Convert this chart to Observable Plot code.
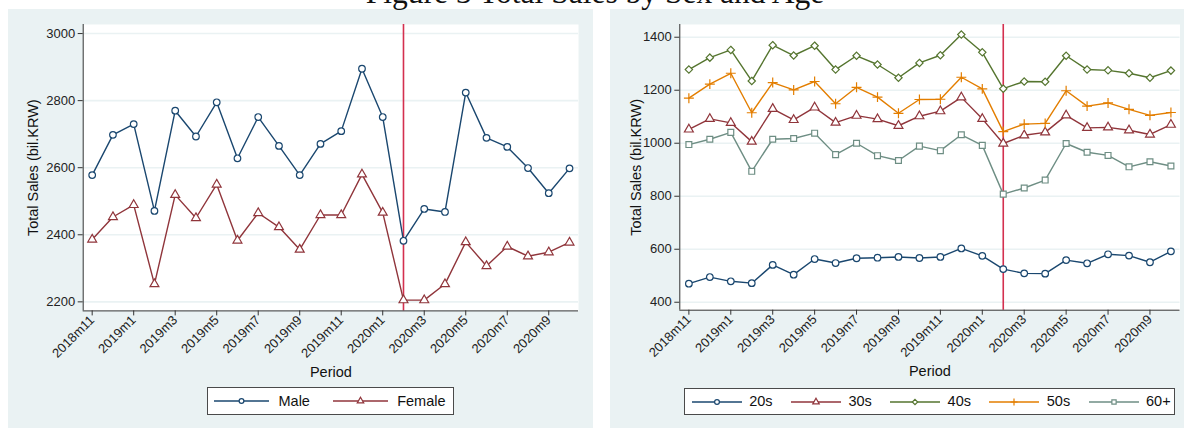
<!DOCTYPE html>
<html>
<head>
<meta charset="utf-8">
<script src="https://cdn.jsdelivr.net/npm/d3@7"></script>
<script src="https://cdn.jsdelivr.net/npm/@observablehq/plot@0.6"></script>
<style>
  html, body { margin: 0; padding: 0; background: #ffffff; width: 1184px; height: 428px; overflow: hidden; }
  body { position: relative; font-family: "Liberation Sans", Arial, sans-serif; }
  #title { position: absolute; left: 0; width: 1190px; top: -23px; line-height: 31.5px; text-align: center;
           font-family: "Liberation Serif", "Times New Roman", serif; font-size: 31.5px; color: #111; z-index: 5; white-space: nowrap; }
  .panel { position: absolute; top: 9px; height: 419px; background: #eaf2f3; }
  .panel > svg { position: absolute; left: 0; top: 0; }
  .legend { position: absolute; background: #ffffff; border: 1px solid #4a4a4a; box-sizing: border-box; }
  .legend .item { position: absolute; top: 0; height: 100%; display: flex; align-items: center; }
  .legend .item svg { display: block; flex: none; }
  .legend .item span { font-size: 14.5px; color: #111; white-space: nowrap; line-height: 1; }
</style>
</head>
<body>
<div id="title">Figure 3 Total Sales by Sex and Age</div>
<div id="left" class="panel" style="left:8px; width:585px;"></div>
<div id="right" class="panel" style="left:610px; width:574px;"></div>
<script>
// ---------------- data ----------------
const periods = ["2018m11","2018m12","2019m1","2019m2","2019m3","2019m4","2019m5","2019m6",
  "2019m7","2019m8","2019m9","2019m10","2019m11","2019m12","2020m1","2020m2",
  "2020m3","2020m4","2020m5","2020m6","2020m7","2020m8","2020m9","2020m10"];
const tickPeriods = ["2018m11","2019m1","2019m3","2019m5","2019m7","2019m9",
  "2019m11","2020m1","2020m3","2020m5","2020m7","2020m9"];
const eventPeriod = "2020m2";

const sexSeries = ["Male", "Female"];
const male   = [2578, 2698, 2730, 2471, 2770, 2693, 2795, 2628, 2751, 2665, 2578, 2671,
                2709, 2895, 2751, 2382, 2477, 2468, 2824, 2689, 2662, 2599, 2524, 2598];
const female = [2386, 2453, 2489, 2253, 2519, 2450, 2550, 2383, 2465, 2423, 2356, 2459,
                2459, 2580, 2466, 2205, 2205, 2253, 2378, 2307, 2365, 2336, 2348, 2377];
const sexTicks = [2200, 2400, 2600, 2800, 3000];

const ageSeries = ["20s", "30s", "40s", "50s", "60+"];
const age20s = [470, 495, 479, 472, 541, 504, 563, 548, 566, 568, 571, 567,
                571, 603, 575, 525, 509, 508, 559, 547, 581, 576, 551, 592];
const age30s = [1052, 1092, 1077, 1006, 1130, 1088, 1135, 1078, 1104, 1091, 1066, 1102,
                1121, 1173, 1092, 999, 1030, 1041, 1105, 1058, 1060, 1049, 1033, 1070];
const age40s = [1278, 1323, 1352, 1235, 1370, 1331, 1368, 1278, 1330, 1297, 1247, 1303,
                1332, 1410, 1343, 1206, 1233, 1232, 1330, 1278, 1275, 1264, 1247, 1274];
const age50s = [1170, 1223, 1264, 1115, 1229, 1201, 1233, 1149, 1211, 1174, 1113, 1165,
                1166, 1249, 1205, 1044, 1072, 1075, 1198, 1140, 1152, 1128, 1105, 1116];
const age60p = [995, 1015, 1041, 894, 1015, 1018, 1038, 957, 1000, 953, 935, 989,
                972, 1032, 992, 808, 831, 861, 999, 966, 954, 911, 930, 914];
const ageTicks = [400, 600, 800, 1000, 1200, 1400];

// ---------------- styles ----------------
const sexColors  = ["#1a476f", "#90353b"];
const sexSymbols = ["circle", "triangle"];
const ageColors  = ["#1a476f", "#90353b", "#55752f", "#e37e00", "#6e8e84"];
const ageSymbols = ["circle", "triangle", "diamond2", "plus", "square"];
const d3Symbols = {circle: d3.symbolCircle, triangle: d3.symbolTriangle, diamond2: d3.symbolDiamond2,
                   plus: d3.symbolPlus, square: d3.symbolSquare};

function toRows(names, arrays) {
  const rows = [];
  names.forEach((name, k) => arrays[k].forEach((v, i) => rows.push({i, period: periods[i], series: name, value: v})));
  return rows;
}

function panel(el, cfg) {
  const pad = 0.433;
  const xDom = [-pad, periods.length - 1 + pad];
  const ink = "#333333";
  const svg = Plot.plot({
    width: cfg.width, height: 419,
    marginLeft: cfg.ml, marginRight: cfg.mr, marginTop: 15, marginBottom: cfg.mb,
    style: {background: "transparent", fontFamily: "'Liberation Sans', Arial, sans-serif", fontSize: "13px", color: "#222"},
    x: {domain: xDom, axis: null},
    y: {domain: cfg.yDom, axis: null},
    color: {domain: cfg.names, range: cfg.colors},
    symbol: {domain: cfg.names, range: cfg.symbols},
    marks: [
      Plot.frame({fill: "white", stroke: null}),
      Plot.gridY(cfg.ticks, {stroke: "#eaf2f3", strokeOpacity: 1, strokeWidth: 1.6}),
      Plot.ruleX([periods.indexOf(eventPeriod)], {stroke: "#d4304f", strokeWidth: 1.6}),
      Plot.ruleX([xDom[0]], {stroke: ink, strokeWidth: 1}),
      Plot.ruleY([cfg.yDom[0]], {stroke: ink, strokeWidth: 1}),
      Plot.axisY({ticks: cfg.ticks, tickFormat: d3.format("d"), tickSize: 5, tickPadding: 3,
                  label: null, fontSize: 13, stroke: ink}),
      Plot.axisX({ticks: tickPeriods.map(p => periods.indexOf(p)), tickFormat: i => periods[i],
                  tickSize: 5, tickPadding: 2, tickRotate: -45, label: null, fontSize: 13, stroke: ink}),
      Plot.text(["Total Sales (bil.KRW)"], {frameAnchor: "left", textAnchor: "middle", lineAnchor: "middle",
                  dx: cfg.ylabDx, rotate: -90, fontSize: 14.5, fill: "#111"}),
      Plot.text(["Period"], {frameAnchor: "bottom", textAnchor: "middle", lineAnchor: "middle",
                  dy: 61, fontSize: 14.5, fill: "#111"}),
      Plot.line(cfg.rows, {x: "i", y: "value", z: "series", stroke: "series", strokeWidth: 1.4}),
      Plot.dot(cfg.rows, {x: "i", y: "value", symbol: "series", stroke: "series", fill: "white", r: 3.3, strokeWidth: 1.2})
    ]
  });
  el.appendChild(svg);

  // legend (below the plot, inside the panel)
  const lg = document.createElement("div");
  lg.className = "legend";
  Object.assign(lg.style, {left: cfg.lg.left + "px", top: cfg.lg.top + "px", width: cfg.lg.width + "px", height: cfg.lg.height + "px"});
  cfg.names.forEach((name, k) => {
    const item = document.createElement("div");
    item.className = "item";
    item.style.left = (cfg.lg.pad + k * cfg.lg.step) + "px";
    const L = cfg.lg.line;
    const s = d3.create("svg").attr("width", L).attr("height", 12).style("margin-right", cfg.lg.gap + "px").style("overflow", "visible");
    s.append("line").attr("x1", 0).attr("x2", L).attr("y1", 6).attr("y2", 6).attr("stroke", cfg.colors[k]).attr("stroke-width", 1.4);
    s.append("path").attr("d", d3.symbol(d3Symbols[cfg.symbols[k]], Math.PI * 2.4 * 2.4)())
      .attr("transform", `translate(${L / 2},6)`).attr("fill", "white").attr("stroke", cfg.colors[k]).attr("stroke-width", 1.2);
    item.appendChild(s.node());
    const t = document.createElement("span");
    t.textContent = name;
    item.appendChild(t);
    lg.appendChild(item);
  });
  el.appendChild(lg);
}

panel(document.getElementById("left"), {
  width: 585, ml: 74.7, mr: 15, mb: 117.6,
  yDom: [2173, 3027], ticks: sexTicks, ylabDx: -50,
  names: sexSeries, colors: sexColors, symbols: sexSymbols,
  rows: toRows(sexSeries, [male, female]),
  lg: {left: 199.3, top: 378.3, width: 247, height: 27.5, pad: 5.7, step: 118.7, line: 55, gap: 9.5}
});

panel(document.getElementById("right"), {
  width: 574, ml: 69.3, mr: 4.5, mb: 118.3,
  yDom: [370, 1448], ticks: ageTicks, ylabDx: -43.5,
  names: ageSeries, colors: ageColors, symbols: ageSymbols,
  rows: toRows(ageSeries, [age20s, age30s, age40s, age50s, age60p]),
  lg: {left: 74, top: 379.3, width: 491, height: 26.5, pad: 6.7, step: 99.2, line: 50, gap: 7.5}
});
</script>
</body>
</html>
